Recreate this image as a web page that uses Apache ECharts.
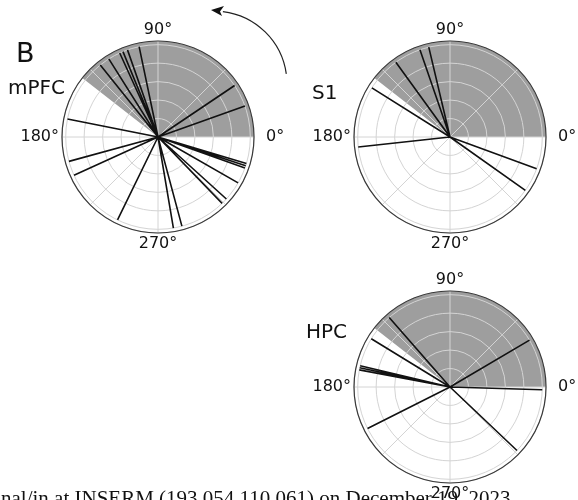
<!DOCTYPE html>
<html>
<head>
<meta charset="utf-8">
<script src="https://cdn.jsdelivr.net/npm/echarts@6/dist/echarts.min.js"></script>
<style>html,body{margin:0;padding:0;background:#fff}#c{width:578px;height:500px}</style>
</head>
<body>
<div id="c"></div>
<script>
// ---- data ----
const regionNames = ['mPFC', 'S1', 'HPC'];
const mpfcAngles = [101.8, 109.3, 112.3, 114.5, 122.2, 128.7, 33.9, 19.6, 168.7, 195.3, 204.5, 244.0, 279.6, 285.0, 343.3, 341.9, 340.3, 330.2, 317.8, 314.0];
const s1Angles = [103.3, 109.0, 125.9, 147.8, 186.2, 339.8, 324.7];
const hpcAngles = [131.2, 30.5, 358.3, 148.5, 166.7, 168.0, 169.3, 206.7, 316.5];
const lineLength = 1.0;
const sectorStart = 0;
const sectorEnd = 142;
const radiusMax = 1.04;
const radiusTicks = 0.2;
const angleTickLabels = [0, 90, 180, 270];
const annotation = 'nal/in at INSERM (193.054.110.061) on December 19, 2023';

const allAngles = [mpfcAngles, s1Angles, hpcAngles];
const centers = [[158, 137], [450, 137], [450, 387]];
const R = 96;
const FONT = 'DejaVu Sans';

const chart = echarts.init(document.getElementById('c'), null, {renderer: 'canvas'});

const polar = centers.map(c => ({center: c, radius: [0, R]}));
const angleAxis = centers.map((c, i) => ({
  polarIndex: i, type: 'value', min: 0, max: 360, interval: 45,
  startAngle: 0, clockwise: false, z: 2,
  axisLine: {show: true, lineStyle: {color: '#3a3a3a', width: 1.2}},
  axisTick: {show: false},
  axisLabel: {
    margin: 3, fontSize: 16, fontFamily: FONT, color: '#111',
    formatter: v => {
      if (v === 0) return '{r|0°}';
      return (angleTickLabels.indexOf(v) >= 0) ? v + '°' : '';
    },
    rich: {r: {fontSize: 16, fontFamily: FONT, color: '#111', padding: [0, 0, 0, 9]}}
  },
  splitLine: {show: true, lineStyle: {color: '#d4d4d4', width: 1}}
}));
const radiusAxis = centers.map((c, i) => ({
  polarIndex: i, type: 'value', min: 0, max: radiusMax, interval: radiusTicks, z: 2,
  axisLine: {show: false}, axisTick: {show: false}, axisLabel: {show: false},
  splitLine: {show: true, lineStyle: {color: '#d4d4d4', width: 1}}
}));

const series = [];
allAngles.forEach((angles, i) => {
  series.push({
    type: 'custom', coordinateSystem: 'polar', polarIndex: i, z: 1, silent: true,
    data: [[radiusMax, sectorStart, sectorEnd]],
    renderItem: (params, api) => {
      const c = api.coord([0, 0]);
      const p1 = api.coord([api.value(0), api.value(1)]);
      const p2 = api.coord([api.value(0), api.value(2)]);
      const r = Math.hypot(p1[0] - c[0], p1[1] - c[1]);
      const a1 = Math.atan2(p1[1] - c[1], p1[0] - c[0]);
      const a2 = Math.atan2(p2[1] - c[1], p2[0] - c[0]);
      return {
        type: 'sector',
        shape: {cx: c[0], cy: c[1], r0: 0, r: r, startAngle: a2, endAngle: a1, clockwise: true},
        style: {fill: '#9e9e9e'}
      };
    }
  });
  const data = [];
  angles.forEach(a => { data.push([0, a]); data.push([lineLength, a]); data.push(['-', '-']); });
  series.push({
    type: 'line', coordinateSystem: 'polar', polarIndex: i, z: 3, silent: true,
    showSymbol: false, symbol: 'none', connectNulls: false, animation: false,
    lineStyle: {color: '#111', width: 1.6},
    data: data
  });
});

const arcC = [214, 84], arcR = 73;
chart.setOption({
  animation: false,
  backgroundColor: '#fff',
  polar, angleAxis, radiusAxis, series,
  graphic: [
    {type: 'text', x: 16, y: 55, style: {text: 'B', fontSize: 27, fontFamily: FONT, fill: '#111', verticalAlign: 'middle'}},
    {type: 'text', x: 8, y: 89, style: {text: regionNames[0], fontSize: 20, fontFamily: FONT, fill: '#111', verticalAlign: 'middle'}},
    {type: 'text', x: 312, y: 94, style: {text: regionNames[1], fontSize: 20, fontFamily: FONT, fill: '#111', verticalAlign: 'middle'}},
    {type: 'text', x: 306, y: 333, style: {text: regionNames[2], fontSize: 20, fontFamily: FONT, fill: '#111', verticalAlign: 'middle'}},
    {type: 'arc', shape: {cx: arcC[0], cy: arcC[1], r: arcR, startAngle: -83 * Math.PI / 180, endAngle: -8 * Math.PI / 180, clockwise: true},
      style: {stroke: '#222', lineWidth: 1.2, fill: null}},
    {type: 'polygon', shape: {points: [[211, 10], [224, 6], [220, 11.5], [222, 16]]}, style: {fill: '#111'}},
    {type: 'text', x: 1, y: 499, z: 10, style: {text: annotation, fontSize: 21, fontFamily: 'Liberation Serif', fill: '#111', verticalAlign: 'middle'}}
  ]
});
</script>
</body>
</html>
